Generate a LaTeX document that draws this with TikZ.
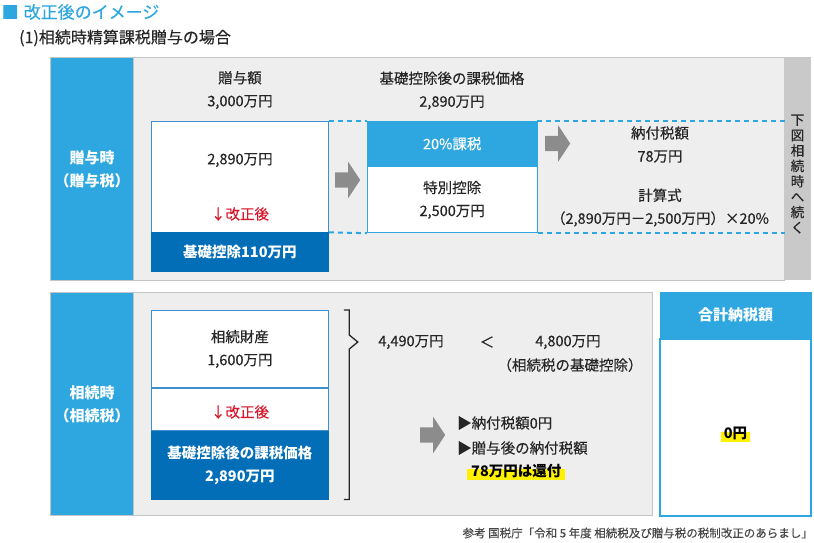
\documentclass[tikz,border=0pt]{standalone}
\usepackage{fontspec}
\setmainfont{Noto Sans CJK JP}[UprightFeatures={FakeBold=0.35}]
\usetikzlibrary{positioning, shapes.arrows, calc}
\definecolor{skyblue}{HTML}{2EA7E0}
\definecolor{deepblue}{HTML}{036EB8}
\definecolor{edgeblue}{HTML}{3E8ED0}
\definecolor{panelgray}{HTML}{EEEEEE}
\definecolor{framegray}{HTML}{C4C4C4}
\definecolor{stripgray}{HTML}{C9C9C9}
\definecolor{arrowgray}{HTML}{8C8C8C}
\definecolor{notered}{HTML}{D7182A}
\definecolor{inkgray}{HTML}{262626}
\definecolor{marker}{HTML}{FFF100}

\begin{document}
\begin{tikzpicture}[
    x=1pt, y=-1pt,
    every node/.style={font=\fontsize{14.5}{23}\selectfont, text=inkgray, inner sep=0pt},
    panel/.style={rectangle, fill=panelgray, draw=framegray, line width=1pt, anchor=north west},
    sidebar/.style={rectangle, fill=skyblue, draw=framegray, line width=1pt, anchor=north west, minimum width=83pt, align=center, text=white, font=\fontsize{15}{23}\selectfont\bfseries},
    whitebox/.style={rectangle, fill=white, draw=edgeblue, line width=0.8pt, minimum width=177pt, anchor=north west, align=center},
    darkbox/.style={rectangle, fill=deepblue, draw=deepblue, line width=0.8pt, minimum width=177pt, align=center, text=white, font=\fontsize{14.5}{23}\selectfont\bfseries},
    headbox/.style={rectangle, fill=skyblue, draw=skyblue, anchor=north west, text=white},
    textline/.style={align=center},
    note/.style={text=notered},
    guide/.style={draw=skyblue, line width=2pt, dash pattern=on 5pt off 4pt},
    bigarrow/.style={single arrow, fill=arrowgray, inner xsep=0pt, inner ysep=7.5pt, single arrow head extend=10.5pt, single arrow tip angle=113, minimum height=25pt, anchor=tail},
    marked/.style={fill=marker, text=black, font=\fontsize{14.5}{23}\selectfont\bfseries, text height=8pt, text depth=3.5pt}
]
\useasboundingbox (0,0) rectangle (814,542);

\node[anchor=west, text=skyblue, font=\fontsize{17}{20}\selectfont] (title) at (1.5,12) {■\hspace{5pt}改正後のイメージ};
\node[anchor=west, font=\fontsize{16}{20}\selectfont] (subtitle) at (19,38) {(1)相続時精算課税贈与の場合};

\node[panel, minimum width=734pt, minimum height=223pt] (upper) at (50,57) {};
\node[sidebar, minimum height=223pt] (gifttime) at (50,57) {贈与時\\（贈与税）};
\node[rectangle, fill=stripgray, anchor=north west, minimum width=27pt, minimum height=223pt] (strip) at (784,57) {};
\node[align=center, font=\fontsize{13.5}{15.4}\selectfont] (striptext) at (797.5,174) {下\\図\\相\\続\\時\\へ\\続\\く};

\node[textline] (giftamount) at (240,90) {贈与額\\3,000万円};
\node[textline] (taxbase) at (452,90.5) {基礎控除後の課税価格\\2,890万円};

\node[whitebox, minimum height=110.5pt] (gift) at (151,121) {};
\node[textline] (giftsum) at (240,160) {2,890万円};
\node[note] (giftnote) at (240,214) {↓改正後};
\node[darkbox, minimum height=38.5pt, below=0pt of gift] (giftbase) {基礎控除110万円};

\node[headbox, minimum width=170pt, minimum height=45pt] (rate) at (367,121) {20\%課税};
\node[whitebox, draw=skyblue, minimum width=170pt, minimum height=66pt, below=0pt of rate] (special) {特別控除\\2,500万円};

\draw[guide] (gift.north east) -- (rate.north west);
\draw[guide] (gift.south east) -- (special.south west);
\draw[guide] (rate.north east) -- (rate.north east -| upper.east);
\draw[guide] (special.south east) -- (special.south east -| upper.east);

\node[bigarrow] (arrowa) at (335,180) {};
\node[bigarrow] (arrowb) at (545,143.5) {};

\node[textline] (payable) at (660,144.5) {納付税額\\78万円};
\node[textline] (formula) at (660,207.5) {計算式\\（2,890万円－2,500万円）×20\%};

\node[panel, minimum width=602pt, minimum height=223pt] (lower) at (50,292) {};
\node[sidebar, minimum height=223pt] (inherittime) at (50,292) {相続時\\（相続税）};

\node[whitebox, minimum height=77pt] (estate) at (151,310) {相続財産\\1,600万円};
\node[whitebox, minimum height=42pt, below=0pt of estate] (estatemid) {};
\node[note] (estatenote) at (240,412) {↓改正後};
\node[darkbox, minimum height=68pt, below=0pt of estatemid] (estatebase) {基礎控除後の課税価格\\2,890万円};

\draw[line width=1.3pt, draw=inkgray] ($(estate.north east)+(15,0)$) -- ++(5.5,0) -- ++(0,25) -- ++(8.5,7) -- ++(-8.5,7) |- ($(estatebase.south east)+(15,0)$);

\node[textline] (estatesum) at (411,342) {4,490万円};
\node[textline] (lessthan) at (487,342) {＜};
\node[textline] (threshold) at (568,342) {4,800万円};
\node[textline] (thresholdnote) at (570,365) {（相続税の基礎控除）};

\node[bigarrow] (arrowc) at (420,435) {};
\node[anchor=west] (nothing) at (457,423) {▶納付税額0円};
\node[anchor=west] (refundhead) at (457,448) {▶贈与後の納付税額};
\node[marked, anchor=base west, inner xsep=4pt] (refund) at (467,476.5) {78万円は還付};

\node[headbox, minimum width=151pt, minimum height=46pt, font=\fontsize{15}{23}\selectfont\bfseries] (totalhead) at (660,292) {合計納税額};
\node[whitebox, draw=skyblue, line width=1.5pt, minimum width=151pt, minimum height=177pt, below=0pt of totalhead] (totalbody) {};
\node[marked, anchor=base, inner xsep=2.5pt, text height=6.5pt] (totalzero) at (735.5,438.5) {0円};

\node[anchor=east, font=\fontsize{11.5}{14}\selectfont, text=inkgray!85] (source) at (813,533) {参考 国税庁「令和 5 年度 相続税及び贈与税の税制改正のあらまし」};
\end{tikzpicture}
\end{document}
